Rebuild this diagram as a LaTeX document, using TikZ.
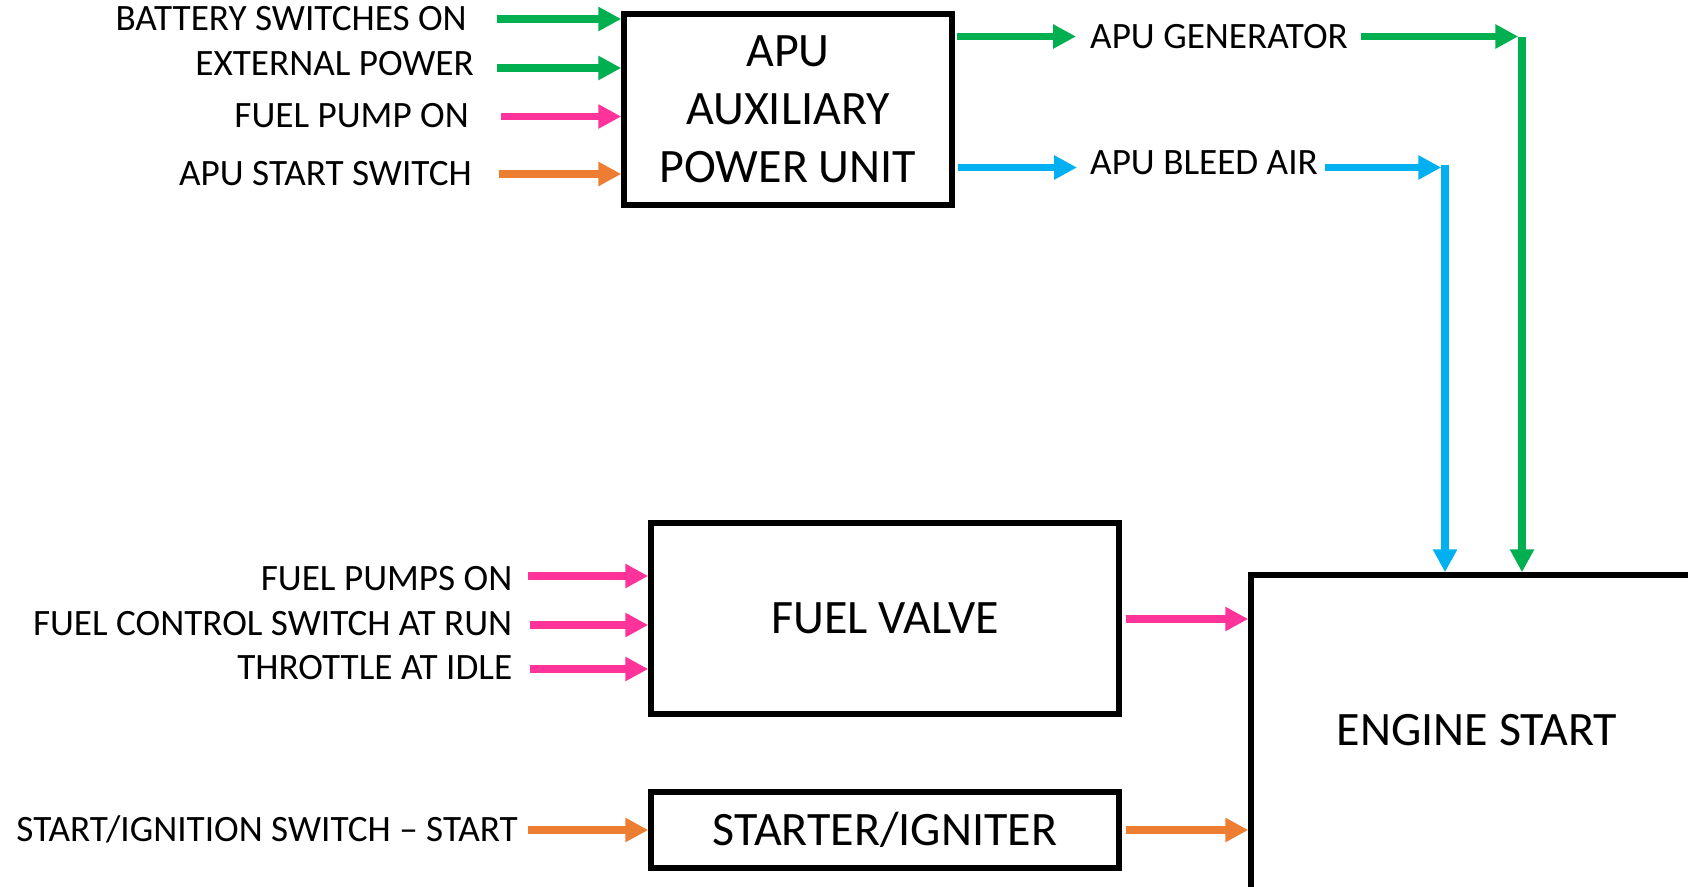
\documentclass[tikz,border=0pt]{standalone}
\usepackage{fontspec}
\setmainfont{Carlito}
\usetikzlibrary{arrows.meta}
\definecolor{cgreen}{RGB}{0,176,80}
\definecolor{cpink}{RGB}{255,51,153}
\definecolor{corange}{RGB}{237,125,49}
\definecolor{cblue}{RGB}{0,176,240}
\begin{document}
\begin{tikzpicture}[x=1pt,y=-1pt,
  box/.style={draw, line width=5.5pt, inner sep=0pt, align=center,
    font=\fontsize{48}{58}\selectfont},
  boxtext/.style={inner sep=0pt, font=\fontsize{48}{58}\selectfont},
  labl/.style={inner sep=0pt, anchor=base east, font=\fontsize{37.2}{44}\selectfont},
  labr/.style={inner sep=0pt, anchor=base west, font=\fontsize{37.2}{44}\selectfont},
  flow/.style={line width=7.5pt, -{Triangle[length=23pt,width=23pt]}},
  bar/.style={line width=7.5pt}]
\clip (0,0) rectangle (1688,886);
\fill[white] (0,0) rectangle (1688,886);

% boxes
\node[box, minimum width=328pt, minimum height=191pt] (apu) at (788,109.5)
  {APU\\AUXILIARY\\POWER UNIT};
\node[box, minimum width=468pt, minimum height=191pt] (fv) at (885,618.5) {FUEL VALVE};
\node[box, minimum width=468pt, minimum height=76pt] (si) at (885,830) {STARTER/IGNITER};
\node[box, minimum width=460pt, minimum height=340pt, anchor=north west] (es) at (1248.25,572.25) {};
\node[boxtext] (estext) at (1477,730) {ENGINE START};

% left labels, APU
\node[labl] (l1) at (467,30.7) {BATTERY SWITCHES ON};
\node[labl] (l2) at (474,75) {EXTERNAL POWER};
\node[labl] (l3) at (469,127) {FUEL PUMP ON};
\node[labl] (l4) at (472,185) {APU START SWITCH};
% left labels, fuel valve and starter
\node[labl] (l5) at (512.5,590) {FUEL PUMPS ON};
\node[labl] (l6) at (512.5,635) {FUEL CONTROL SWITCH AT RUN};
\node[labl] (l7) at (512.5,679.3) {THROTTLE AT IDLE};
\node[labl] (l8) at (518,841.5) {START/IGNITION SWITCH – START};
% right labels
\node[labr] (gen) at (1090,48.3) {APU GENERATOR};
\node[labr] (bleed) at (1090,174) {APU BLEED AIR};

% arrow start points
\coordinate (a1) at (497,19);
\coordinate (a2) at (497,68);
\coordinate (a3) at (501,116.5);
\coordinate (a4) at (499,174);
\coordinate (p1) at (528,576);
\coordinate (p2) at (530,625);
\coordinate (p3) at (530,669);
\coordinate (o1) at (528,830);
\coordinate (fo) at (1126,619);
\coordinate (so) at (1126,830);
\coordinate (g1) at (957,36.5);
\coordinate (g1e) at (1076,36.5);
\coordinate (g2) at (1361,36.5);
\coordinate (g2e) at (1518.25,36.5);
\coordinate (gc) at (1522,36.5);
\coordinate (b1) at (958,167.5);
\coordinate (b1e) at (1077,167.5);
\coordinate (b2) at (1325,167.5);
\coordinate (b2e) at (1441.25,167.5);
\coordinate (bc) at (1445,164.5);

% inputs to APU
\draw[flow, cgreen] (a1) -- (a1 -| apu.west);
\draw[flow, cgreen] (a2) -- (a2 -| apu.west);
\draw[flow, cpink] (a3) -- (a3 -| apu.west);
\draw[flow, corange] (a4) -- (a4 -| apu.west);

% inputs to fuel valve and starter
\draw[flow, cpink] (p1) -- (p1 -| fv.west);
\draw[flow, cpink] (p2) -- (p2 -| fv.west);
\draw[flow, cpink] (p3) -- (p3 -| fv.west);
\draw[flow, corange] (o1) -- (o1 -| si.west);

% outputs to engine start
\draw[flow, cpink] (fo) -- (fo -| es.west);
\draw[flow, corange] (so) -- (so -| es.west);

% APU outputs
\draw[flow, cgreen] (g1) -- (g1e);
\draw[flow, cgreen] (g2) -- (g2e);
\draw[flow, cgreen] (gc) -- (gc |- es.north);
\draw[flow, cblue] (b1) -- (b1e);
\draw[flow, cblue] (b2) -- (b2e);
\draw[flow, cblue] (bc) -- (bc |- es.north);
\end{tikzpicture}
\end{document}
